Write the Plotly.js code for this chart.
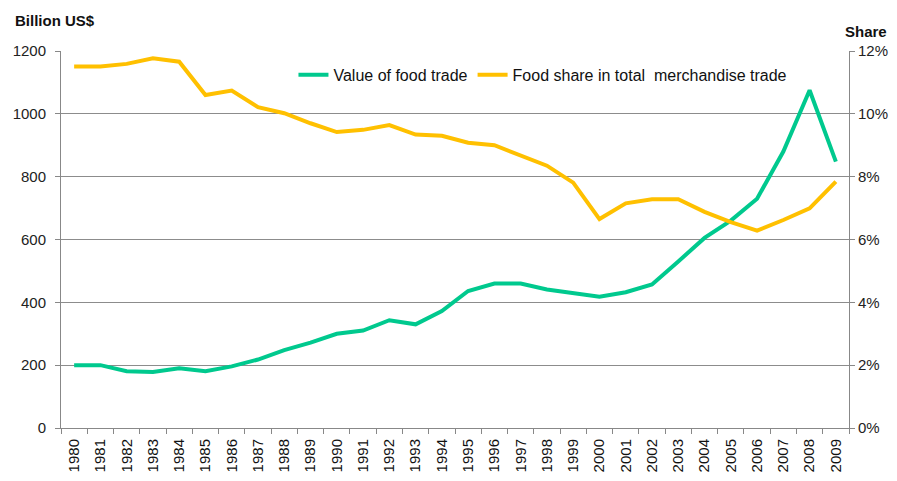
<!DOCTYPE html>
<html>
<head>
<meta charset="utf-8">
<script src="https://cdn.plot.ly/plotly-3.0.1.min.js"></script>
<style>html,body{margin:0;padding:0;background:#fff}#chart{width:897px;height:481px}</style>
</head>
<body>
<div id="chart"></div>
<script>
const years = ['1980','1981','1982','1983','1984','1985','1986','1987','1988','1989','1990','1991','1992','1993','1994','1995','1996','1997','1998','1999','2000','2001','2002','2003','2004','2005','2006','2007','2008','2009'];
const foodTradeValue = [200,200,181,178,190,181,196,218,248,272,300,310,343,330,372,436,460,460,441,428,418,432,457,530,605,660,730,880,1075,848];
const foodSharePct = [11.51,11.51,11.59,11.77,11.66,10.60,10.74,10.21,10.02,9.70,9.42,9.49,9.64,9.34,9.30,9.08,9.00,8.66,8.35,7.81,6.65,7.15,7.28,7.28,6.88,6.55,6.28,6.62,6.99,7.84];

const font = 'Arial, "Liberation Sans", sans-serif';
const traces = [
  {x: years, y: foodTradeValue, type: 'scatter', mode: 'lines', name: 'Value of food trade',
   line: {color: '#00C98E', width: 4}, yaxis: 'y'},
  {x: years, y: foodSharePct.map(v => v/100), type: 'scatter', mode: 'lines', name: 'Food share in total  merchandise trade',
   line: {color: '#FFC000', width: 4}, yaxis: 'y2'}
];
const layout = {
  width: 897, height: 481,
  margin: {l: 61, r: 48, t: 51, b: 53},
  paper_bgcolor: '#fff', plot_bgcolor: '#fff',
  font: {family: font, size: 15, color: '#222'},
  showlegend: true,
  legend: {orientation: 'h', x: 0.295, y: 0.937, xanchor: 'left', yanchor: 'middle',
           font: {family: font, size: 16, color: '#111'}, bgcolor: 'rgba(0,0,0,0)', itemwidth: 30, tracegroupgap: 0},
  xaxis: {type: 'category', range: [-0.5, 29.5], tickangle: -90, tickson: 'boundaries', ticks: 'outside', ticklen: 5,
          tickcolor: '#888', showline: true, linecolor: '#888', linewidth: 1, showgrid: false, ticklabelstandoff: 4,
          tickfont: {family: font, size: 15, color: '#111'}, fixedrange: true},
  yaxis: {range: [0, 1200], dtick: 200, ticks: 'outside', ticklen: 5, tickcolor: '#888', ticklabelstandoff: 6,
          showline: true, linecolor: '#888', linewidth: 1, gridcolor: '#8c8c8c', gridwidth: 1,
          zeroline: false, tickfont: {family: font, size: 15, color: '#222'}},
  yaxis2: {range: [0, 0.12], dtick: 0.02, tickformat: '.0%', overlaying: 'y', side: 'right',
           ticks: 'outside', ticklen: 5, tickcolor: '#888', showline: true, linecolor: '#888',
           linewidth: 1, showgrid: false, zeroline: false, tickfont: {family: font, size: 15, color: '#222'}},
  annotations: [
    {text: '<b>Billion US$</b>', xref: 'paper', yref: 'paper', x: -0.061, y: 1.08, xanchor: 'left', yanchor: 'middle',
     showarrow: false, font: {family: font, size: 15, color: '#111'}},
    {text: '<b>Share</b>', xref: 'paper', yref: 'paper', x: 1.0, y: 1.053, xanchor: 'left', yanchor: 'middle', xshift: -6,
     showarrow: false, font: {family: font, size: 15, color: '#111'}}
  ]
};
Plotly.newPlot('chart', traces, layout, {displayModeBar: false, staticPlot: true});
</script>
</body>
</html>
